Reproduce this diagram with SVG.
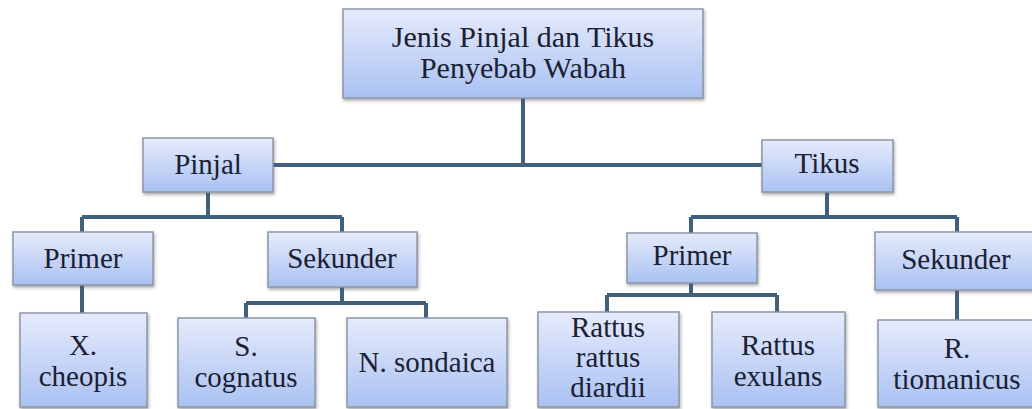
<svg xmlns="http://www.w3.org/2000/svg" width="1032" height="409" viewBox="0 0 1032 409">
<defs>
<linearGradient id="g" x1="0" y1="0" x2="0" y2="1">
<stop offset="0" stop-color="#e6ebfb"/>
<stop offset="1" stop-color="#a9c1f2"/>
</linearGradient>
<filter id="sh" x="-10%" y="-10%" width="125%" height="130%">
<feDropShadow dx="1" dy="2" stdDeviation="1.5" flood-color="#555" flood-opacity="0.5"/>
</filter>
</defs>
<style>
.box{fill:url(#g);stroke:#8d96a8;stroke-width:1.5;filter:url(#sh)}
text{font-family:'Liberation Serif','Times New Roman',serif;font-size:29px;fill:#1b2033;text-anchor:middle}
.c{fill:none;stroke:#41607c;stroke-width:4}
</style>
<rect width="1032" height="409" fill="#ffffff"/>
<g id="connectors">
<path class="c" d="M523 98V165M273 165H762"/>
<path class="c" d="M208 192V217M82 217H342M82 217V232M342 217V232"/>
<path class="c" d="M827 192V217M691 217H957M691 217V233M957 217V232"/>
<path class="c" d="M82 285V313"/>
<path class="c" d="M342 287V303M246 303H426M246 303V318M426 303V318"/>
<path class="c" d="M691 283V295M607 295H777M607 295V312M777 295V312"/>
<path class="c" d="M957 290V320"/>
</g>
<g id="root"><rect class="box" x="343" y="9" width="360" height="89"/><text x="523" y="47" style="font-size:30px">Jenis Pinjal dan Tikus</text><text x="523" y="78" style="font-size:30px">Penyebab Wabah</text></g>
<g id="pinjal"><rect class="box" x="143" y="138" width="130" height="54"/><text x="208" y="174">Pinjal</text></g>
<g id="tikus"><rect class="box" x="762" y="140" width="131" height="52"/><text x="827" y="173">Tikus</text></g>
<g id="primer-pinjal"><rect class="box" x="13" y="232" width="140" height="53"/><text x="83" y="268">Primer</text></g>
<g id="sekunder-pinjal"><rect class="box" x="268" y="232" width="149" height="55"/><text x="342" y="268">Sekunder</text></g>
<g id="primer-tikus"><rect class="box" x="627" y="233" width="130" height="50"/><text x="692" y="265">Primer</text></g>
<g id="sekunder-tikus"><rect class="box" x="875" y="232" width="162" height="58"/><text x="956" y="269">Sekunder</text></g>
<g id="x-cheopis"><rect class="box" x="20" y="313" width="127" height="94"/><text x="83" y="355">X.</text><text x="83" y="386">cheopis</text></g>
<g id="s-cognatus"><rect class="box" x="178" y="318" width="137" height="89"/><text x="246" y="356">S.</text><text x="246" y="387">cognatus</text></g>
<g id="n-sondaica"><rect class="box" x="347" y="318" width="160" height="89"/><text x="427" y="372">N. sondaica</text></g>
<g id="rattus-rattus-diardii"><rect class="box" x="538" y="312" width="141" height="95"/><text x="608" y="337">Rattus</text><text x="608" y="367">rattus</text><text x="608" y="397">diardii</text></g>
<g id="rattus-exulans"><rect class="box" x="712" y="312" width="133" height="95"/><text x="778" y="355">Rattus</text><text x="778" y="386">exulans</text></g>
<g id="r-tiomanicus"><rect class="box" x="878" y="320" width="160" height="87"/><text x="957" y="358">R.</text><text x="957" y="389">tiomanicus</text></g>
</svg>
